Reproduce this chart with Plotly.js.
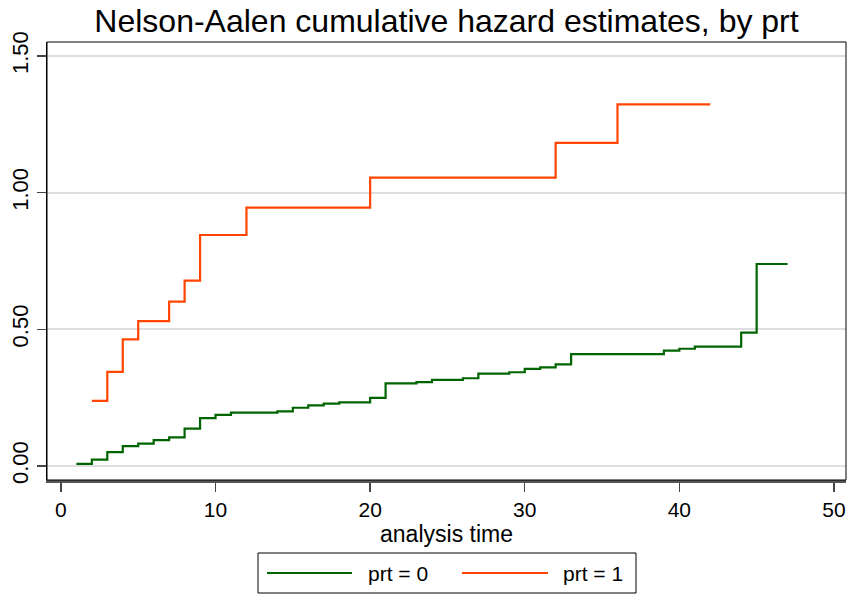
<!DOCTYPE html>
<html>
<head>
<meta charset="utf-8">
<script src="https://cdn.plot.ly/plotly-3.0.1.min.js"></script>
<style>html,body{margin:0;padding:0;background:#fff;}#chart{width:848px;height:594px;}</style>
</head>
<body>
<div id="chart"></div>
<script>
// prt = 0 : failure times and Nelson-Aalen cumulative hazard
const time0 = [1,2,3,4,5,6,7,8,9,10,11,14,15,16,17,18,20,21,23,24,26,27,29,30,31,32,33,39,40,41,44,45,47];
const haz0  = [0.008,0.023,0.051,0.073,0.082,0.095,0.105,0.137,0.175,0.187,0.195,0.200,0.213,0.222,0.228,0.233,0.249,0.302,0.307,0.315,0.321,0.338,0.343,0.355,0.361,0.372,0.409,0.422,0.429,0.437,0.488,0.739,0.739];
// prt = 1
const time1 = [2,3,4,5,7,8,9,12,20,32,36,42];
const haz1  = [0.238,0.344,0.463,0.530,0.601,0.678,0.845,0.945,1.055,1.182,1.323,1.323];

const seriesNames = ["prt = 0", "prt = 1"];
const seriesColors = ["#006400", "#ff4500"];
const yTicks = [0, 0.5, 1, 1.5];
const xTicks = [0, 10, 20, 30, 40, 50];

const FONT = "Liberation Sans, Arial, sans-serif";

const traces = [
  {x: time0, y: haz0, name: seriesNames[0], mode: "lines", line: {shape: "hv", color: seriesColors[0], width: 2.2}, showlegend: false, hoverinfo: "x+y"},
  {x: time1, y: haz1, name: seriesNames[1], mode: "lines", line: {shape: "hv", color: seriesColors[1], width: 2.2}, showlegend: false, hoverinfo: "x+y"}
];

// manual legend (Stata style long keys) in paper coordinates
const plotL = 47, plotR = 846, plotT = 42, plotB = 480;
const px = v => (v - plotL) / (plotR - plotL);
const py = v => (plotB - v) / (plotB - plotT);

const shapes = [
  {type: "rect", xref: "paper", yref: "paper", x0: 0, x1: 1, y0: 0, y1: 1, line: {color: "#000", width: 1}, layer: "above"},
  {type: "rect", xref: "paper", yref: "paper", x0: px(258), x1: px(636), y0: py(553), y1: py(593), line: {color: "#000", width: 1}, fillcolor: "rgba(0,0,0,0)"},
  {type: "line", xref: "paper", yref: "paper", x0: px(267), x1: px(352), y0: py(573), y1: py(573), line: {color: seriesColors[0], width: 2.2}},
  {type: "line", xref: "paper", yref: "paper", x0: px(462), x1: px(548), y0: py(573), y1: py(573), line: {color: seriesColors[1], width: 2.2}}
];

const annotations = [
  {xref: "paper", yref: "paper", x: px(366), y: py(573), xanchor: "left", yanchor: "middle", text: seriesNames[0], showarrow: false, font: {family: FONT, size: 21, color: "#000"}},
  {xref: "paper", yref: "paper", x: px(561), y: py(573), xanchor: "left", yanchor: "middle", text: seriesNames[1], showarrow: false, font: {family: FONT, size: 21, color: "#000"}}
];

const layout = {
  width: 848, height: 594,
  paper_bgcolor: "#fff", plot_bgcolor: "#fff",
  margin: {l: plotL, r: 848 - plotR, t: plotT, b: 594 - plotB, pad: 0},
  font: {family: FONT, color: "#000"},
  title: {text: "Nelson-Aalen cumulative hazard estimates, by prt", font: {family: FONT, size: 32, color: "#000"}, x: 0.5, xref: "paper", xanchor: "center", y: 1 - 21/594, yref: "container", yanchor: "middle"},
  xaxis: {
    range: [-0.9, 50.78], tickvals: xTicks, ticktext: xTicks.map(String),
    ticks: "outside", ticklen: 9, tickwidth: 1.5, tickcolor: "#444",
    showline: true, linecolor: "#555", linewidth: 3,
    showgrid: false, zeroline: false,
    tickfont: {family: FONT, size: 21, color: "#000"},
    title: {text: "analysis time", font: {family: FONT, size: 23, color: "#000"}, standoff: 0},
    automargin: false
  },
  yaxis: {
    range: [-0.0512, 1.551], tickvals: yTicks, tickformat: ".2f",
    ticks: "outside", ticklen: 9, tickwidth: 1.5, tickcolor: "#444",
    showline: true, linecolor: "#000", linewidth: 1,
    showgrid: true, gridcolor: "#dedede", gridwidth: 2, zeroline: false,
    tickangle: -90,
    tickfont: {family: FONT, size: 22, color: "#000"},
    automargin: false
  },
  shapes: shapes,
  annotations: annotations,
  showlegend: false
};

Plotly.newPlot("chart", traces, layout, {staticPlot: true, displayModeBar: false});
</script>
</body>
</html>
